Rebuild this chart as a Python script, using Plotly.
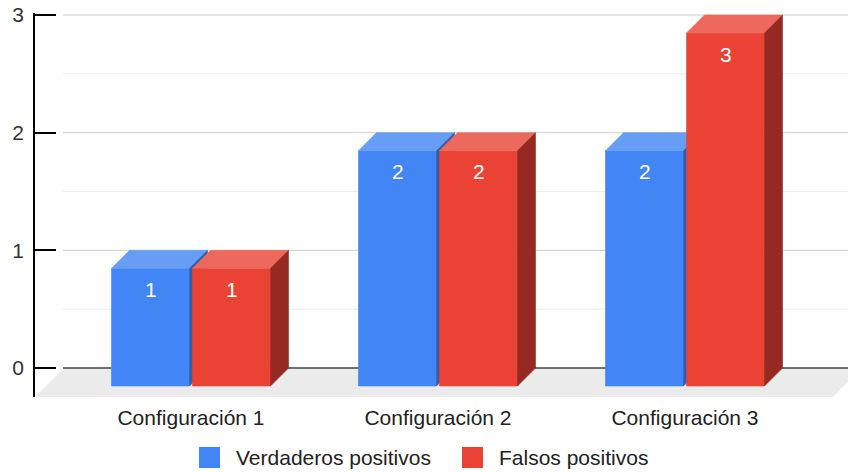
import plotly.graph_objects as go

# ---- data ----
categories = ["Configuración 1", "Configuración 2", "Configuración 3"]
series_names = ["Verdaderos positivos", "Falsos positivos"]
verdaderos_positivos = [1, 2, 2]
falsos_positivos = [1, 2, 3]
y_ticks = [0, 1, 2, 3]
minor_ticks = [0.5, 1.5, 2.5]

# ---- styling ----
FONT = "Arial, Liberation Sans, sans-serif"
FONT_SIZE = 21
FACE_COLORS = [
    # front, top, side
    ("#4285F4", "#689df6", "#2d5fb0"),
    ("#EA4335", "#ee695d", "#962a23"),
]

W, H = 848, 472
M_L, M_R, M_T, M_B = 35, 0, 13, 75
PLOT_W = W - M_L - M_R
PLOT_H = H - M_T - M_B

Y_MAX = 3
TOP_PAD_PX = 2
FLOOR_PX = 29          # depth of the floor slab
ZERO_PX = PLOT_H - FLOOR_PX - TOP_PAD_PX
PX_PER_Y = ZERO_PX / Y_MAX
Y_MIN = -FLOOR_PX / PX_PER_Y
Y_TOP = Y_MAX + TOP_PAD_PX / PX_PER_Y

CAT_PX = 247           # spacing between categories
FIRST_CAT_PX = 156     # first category centre, from the left of the plot
X_MIN = -FIRST_CAT_PX / CAT_PX
X_MAX = X_MIN + PLOT_W / CAT_PX

BAR_PX = 78
GAP_PX = 3
DEPTH_PX = 18


def dx(px):
    return px / CAT_PX


def dy(px):
    return px / PX_PER_Y


def paper_x(px):
    return (px - M_L) / PLOT_W


def paper_y(py):
    return (H - M_B - py) / PLOT_H


fig = go.Figure()

series_values = [verdaderos_positivos, falsos_positivos]
labels = []

for s, values in enumerate(series_values):
    front_c, top_c, side_c = FACE_COLORS[s]
    fx, fy, tx, ty, sx, sy = [], [], [], [], [], []
    for i, v in enumerate(values):
        if s == 0:
            left = i + dx(-GAP_PX / 2 - BAR_PX)
        else:
            left = i + dx(GAP_PX / 2)
        right = left + dx(BAR_PX)
        fb = -dy(DEPTH_PX)
        ft = v - dy(DEPTH_PX)
        ox, oy = dx(DEPTH_PX), dy(DEPTH_PX)
        fx += [left, right, right, left, left, None]
        fy += [fb, fb, ft, ft, fb, None]
        tx += [left, right, right + ox, left + ox, left, None]
        ty += [ft, ft, ft + oy, ft + oy, ft, None]
        sx += [right, right + ox, right + ox, right, right, None]
        sy += [fb, fb + oy, ft + oy, ft, fb, None]
        labels.append(((left + right) / 2, ft, v))
    for xs, ys, col in ((fx, fy, front_c), (tx, ty, top_c), (sx, sy, side_c)):
        fig.add_trace(go.Scatter(
            x=xs, y=ys, mode="lines", fill="toself", fillcolor=col,
            line=dict(width=0.6, color=col), hoverinfo="skip",
            showlegend=False,
        ))

# value labels on the front faces
for x, y, v in labels:
    fig.add_annotation(
        x=x, y=y, text=str(v), showarrow=False, yshift=-21,
        xanchor="center", yanchor="middle",
        font=dict(family=FONT, size=FONT_SIZE, color="white"),
    )

shapes = []
# floor slab
x_front_l = X_MIN
x_front_r = X_MIN + dx(833 - M_L)
x_back_l = x_front_l + dx(FLOOR_PX)
x_back_r = x_front_r + dx(FLOOR_PX)
shapes.append(dict(
    type="path", xref="x", yref="y", layer="below",
    path=f"M{x_front_l},{Y_MIN} L{x_front_r},{Y_MIN} L{x_back_r},0 L{x_back_l},0 Z",
    fillcolor="#ebebeb", line=dict(width=0),
))
grid_x0 = X_MIN + dx(28)
for t in minor_ticks:
    shapes.append(dict(type="line", xref="x", yref="y", layer="below",
                       x0=grid_x0, x1=X_MAX, y0=t, y1=t,
                       line=dict(color="#ebebeb", width=1)))
for t in y_ticks[1:]:
    shapes.append(dict(type="line", xref="x", yref="y", layer="below",
                       x0=grid_x0, x1=X_MAX, y0=t, y1=t,
                       line=dict(color="#cccccc", width=1)))
shapes.append(dict(type="line", xref="x", yref="y", layer="below",
                   x0=grid_x0, x1=X_MAX, y0=0, y1=0,
                   line=dict(color="#444444", width=1.5)))

# legend
legend_items = [(199, series_names[0], FACE_COLORS[0][0]),
                (462, series_names[1], FACE_COLORS[1][0])]
SW = 21
LEG_CY = 457.5
for x0, name, col in legend_items:
    shapes.append(dict(type="rect", xref="paper", yref="paper",
                       x0=paper_x(x0), x1=paper_x(x0 + SW),
                       y0=paper_y(LEG_CY + SW / 2), y1=paper_y(LEG_CY - SW / 2),
                       fillcolor=col, line=dict(width=0)))
    fig.add_annotation(
        xref="paper", yref="paper", x=paper_x(x0 + SW + 14), y=paper_y(LEG_CY),
        text=name, showarrow=False, xanchor="left", yanchor="middle",
        font=dict(family=FONT, size=FONT_SIZE, color="#222222"),
    )

fig.update_layout(
    width=W, height=H,
    margin=dict(l=M_L, r=M_R, t=M_T, b=M_B),
    paper_bgcolor="white", plot_bgcolor="white",
    showlegend=False,
    shapes=shapes,
    font=dict(family=FONT, size=FONT_SIZE, color="#222222"),
    xaxis=dict(
        range=[X_MIN, X_MAX], tickvals=list(range(len(categories))),
        ticktext=categories, showgrid=False, zeroline=False, showline=False,
        ticks="", tickfont=dict(family=FONT, size=FONT_SIZE, color="#222222"),
        ticklabelstandoff=6,
        fixedrange=True,
    ),
    yaxis=dict(
        range=[Y_MIN, Y_TOP], tickvals=y_ticks, showgrid=False, zeroline=False,
        showline=True, linecolor="black", linewidth=1.5,
        ticks="inside", ticklen=21, tickwidth=1.5, tickcolor="black",
        ticklabelstandoff=5,
        tickfont=dict(family=FONT, size=FONT_SIZE, color="#333333"),
        fixedrange=True,
    ),
)

fig.write_html("out.html")
